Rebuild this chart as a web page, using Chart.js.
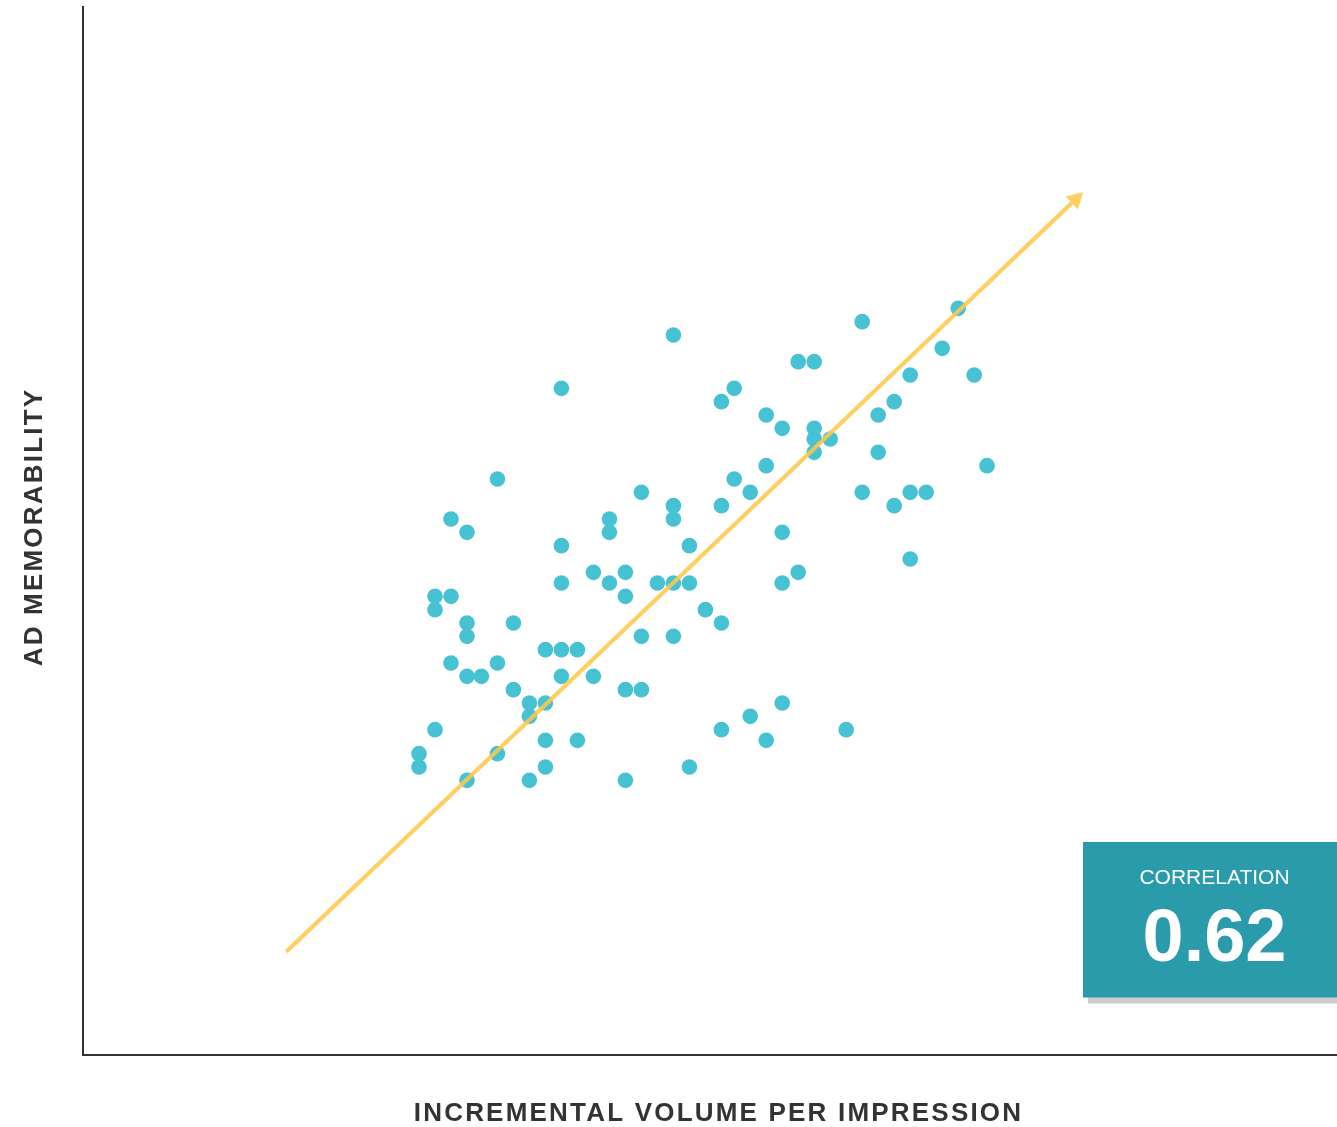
<!DOCTYPE html>
<html>
<head>
<meta charset="utf-8">
<script src="https://cdn.jsdelivr.net/npm/chart.js@4.4.1/dist/chart.umd.min.js"></script>
<style>
  html, body { margin: 0; padding: 0; background: #ffffff; }
  canvas { display: block; }
</style>
</head>
<body>
<canvas id="chart" width="1337" height="1127"></canvas>
<script>
// Incremental volume per impression (x) for each ad
const volumeX = [
  36.9, 29.9, 25.9, 23.0, 24.0, 29.9, 32.9, 32.9, 34.9, 36.9,
  36.9, 37.9, 54.7, 48.7, 44.7, 45.7, 53.7, 40.7, 39.9, 51.7,
  55.7, 50.7, 42.7, 49.7, 43.7, 45.7, 45.7, 46.7, 45.7, 49.7,
  42.7, 56.5, 40.7, 41.7, 48.7, 51.7, 52.7, 39.9, 50.7, 43.7,
  31.9, 33.9, 32.9, 33.9, 29.9, 35.9, 36.9, 37.9, 38.9, 22.0,
  23.0, 22.0, 24.0, 24.0, 26.9, 34.9, 36.9, 28.9, 29.9, 30.9,
  23.0, 25.9, 24.0, 24.9, 29.9, 31.9, 26.9, 33.9, 34.9, 27.9,
  28.9, 27.9, 22.0, 28.9, 30.9, 21.0, 21.0, 25.9, 28.9, 37.9,
  24.0, 27.9, 33.9, 39.9, 43.7, 44.7, 51.7, 43.7, 41.7, 39.9,
  42.7, 47.7
];

// Ad memorability (y) for the same ads
const memorabilityY = [
  54.0, 50.0, 43.2, 40.2, 39.2, 38.2, 40.2, 39.2, 42.2, 41.2,
  40.2, 38.2, 56.0, 55.0, 52.0, 52.0, 53.0, 50.0, 49.0, 51.0,
  51.0, 49.0, 48.0, 48.0, 47.0, 47.0, 46.2, 46.2, 45.2, 45.2,
  44.2, 44.2, 43.2, 42.2, 42.2, 42.2, 42.2, 41.2, 41.2, 39.2,
  36.2, 36.2, 35.4, 34.4, 35.4, 35.4, 35.4, 35.4, 33.4, 34.4,
  34.4, 33.4, 32.4, 31.4, 32.4, 31.4, 31.4, 30.4, 30.4, 30.4,
  29.4, 29.4, 28.4, 28.4, 28.4, 28.4, 27.4, 27.4, 27.4, 26.4,
  26.4, 25.4, 24.4, 23.6, 23.6, 22.6, 21.6, 22.6, 21.6, 21.6,
  20.6, 20.6, 20.6, 32.4, 35.4, 36.2, 37.2, 26.4, 25.4, 24.4,
  23.6, 24.4
];

// Trend line end points (the arrow head continues past the last one)
const trendX = [12.7, 61.8];
const trendY = [7.75, 63.9];

const correlation = 0.62;
const correlationLabel = 'CORRELATION';
const xAxisTitle = 'INCREMENTAL VOLUME PER IMPRESSION';
const yAxisTitle = 'AD MEMORABILITY';

const xRange = [0, 78.375];
const yRange = [0, 78.6];

const TREND_COLOR = 'rgba(255, 200, 75, 0.88)';
const POINT_COLOR = '#46c2d3';
const BOX_COLOR = '#2a9baa';
const AXIS_COLOR = '#333333';
const FONT = '"Liberation Sans", Arial, Helvetica, sans-serif';

const scatterPoints = volumeX.map((x, i) => ({ x, y: memorabilityY[i] }));
const trendPoints = trendX.map((x, i) => ({ x, y: trendY[i] }));

// Arrow head at the end of the trend line
const arrowHead = {
  id: 'arrowHead',
  afterDatasetsDraw(chart) {
    const pts = chart.getDatasetMeta(0).data;
    const a = pts[pts.length - 2], b = pts[pts.length - 1];
    const dx = b.x - a.x, dy = b.y - a.y;
    const len = Math.hypot(dx, dy);
    const ux = dx / len, uy = dy / len;
    const L = 15.5, W = 9;
    const ctx = chart.ctx;
    ctx.save();
    ctx.fillStyle = TREND_COLOR;
    ctx.beginPath();
    ctx.moveTo(b.x + ux * L, b.y + uy * L);
    ctx.lineTo(b.x - uy * W, b.y + ux * W);
    ctx.lineTo(b.x + uy * W, b.y - ux * W);
    ctx.closePath();
    ctx.fill();
    ctx.restore();
  }
};

// Axis titles with letter spacing
const axisTitles = {
  id: 'axisTitles',
  afterDraw(chart) {
    const ctx = chart.ctx;
    const ca = chart.chartArea;
    ctx.save();
    ctx.fillStyle = AXIS_COLOR;
    ctx.font = 'bold 26px ' + FONT;
    ctx.letterSpacing = '2.2px';
    ctx.textAlign = 'center';
    ctx.textBaseline = 'alphabetic';
    ctx.fillText(xAxisTitle, (ca.left + ca.right) / 2 + 8.5, 1121);
    ctx.translate(42, (ca.top + ca.bottom) / 2 - 4);
    ctx.rotate(-Math.PI / 2);
    ctx.fillText(yAxisTitle, 0, 0);
    ctx.restore();
  }
};

// Correlation badge in the lower right corner
const correlationBox = {
  id: 'correlationBox',
  afterDraw(chart) {
    const ctx = chart.ctx;
    const ca = chart.chartArea;
    const bw = 254, bh = 155.5;
    const bx = ca.right - bw, by = 842;
    ctx.save();
    ctx.fillStyle = '#cccccc';
    ctx.fillRect(bx + 5, by + 6, bw - 5, bh);
    ctx.fillStyle = BOX_COLOR;
    ctx.fillRect(bx, by, bw, bh);
    ctx.fillStyle = '#ffffff';
    ctx.textAlign = 'center';
    ctx.textBaseline = 'alphabetic';
    ctx.letterSpacing = '0px';
    const cx = bx + 131.5;
    ctx.font = '21px ' + FONT;
    ctx.fillText(correlationLabel, cx, 884);
    ctx.font = 'bold 74px ' + FONT;
    ctx.fillText(correlation.toFixed(2), cx, 961);
    ctx.restore();
  }
};

new Chart(document.getElementById('chart'), {
  type: 'scatter',
  data: {
    datasets: [
      {
        label: 'Trend',
        data: trendPoints,
        showLine: true,
        borderColor: TREND_COLOR,
        borderWidth: 4.2,
        borderCapStyle: 'butt',
        pointRadius: 0,
        fill: false
      },
      {
        label: 'Ads',
        data: scatterPoints,
        backgroundColor: POINT_COLOR,
        borderWidth: 0,
        pointRadius: 7.8
      }
    ]
  },
  options: {
    responsive: false,
    animation: false,
    events: [],
    layout: { autoPadding: false, padding: { top: 7, right: 0, bottom: 0, left: 0 } },
    plugins: {
      legend: { display: false },
      tooltip: { enabled: false }
    },
    scales: {
      x: {
        type: 'linear',
        min: xRange[0],
        max: xRange[1],
        grid: { display: false },
        ticks: { display: false },
        border: { display: true, color: AXIS_COLOR, width: 2 },
        afterFit(scale) { scale.height = 72; }
      },
      y: {
        type: 'linear',
        min: yRange[0],
        max: yRange[1],
        grid: { display: false },
        ticks: { display: false },
        border: { display: true, color: AXIS_COLOR, width: 2 },
        afterFit(scale) { scale.width = 83; }
      }
    }
  },
  plugins: [arrowHead, axisTitles, correlationBox]
});
</script>
</body>
</html>
